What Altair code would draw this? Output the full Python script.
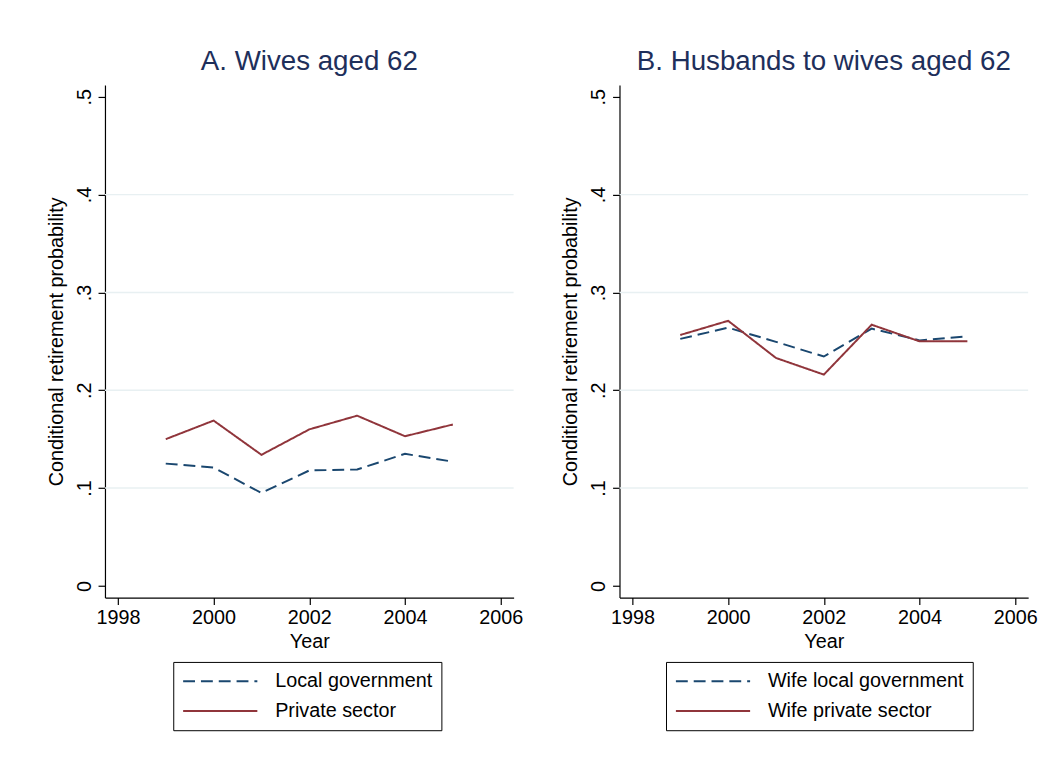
import altair as alt
import pandas as pd

years = [1999, 2000, 2001, 2002, 2003, 2004, 2005]
a_local = [0.125, 0.121, 0.095, 0.118, 0.119, 0.135, 0.127]
a_private = [0.150, 0.169, 0.134, 0.160, 0.174, 0.153, 0.165]
b_local = [0.2525, 0.264, 0.2495, 0.2345, 0.263, 0.251, 0.255]
b_private = [0.2565, 0.271, 0.233, 0.216, 0.267, 0.250, 0.250]

x_ticks = [1998, 2000, 2002, 2004, 2006]
y_ticks = [0, 0.1, 0.2, 0.3, 0.4, 0.5]
grid_values = [0.1, 0.2, 0.3, 0.4]

FONT = "Liberation Sans"
NAVY = "#1a476f"
MAROON = "#90353b"
TITLE_COLOR = "#1e2f5b"
FS = 20


def panel(title, local, private, lab_local, lab_private, legend_x):
    df = pd.DataFrame({
        "year": years * 2,
        "value": local + private,
        "series": [lab_local] * len(years) + [lab_private] * len(years),
    })
    grid_df = pd.DataFrame({"g": grid_values})
    yscale = alt.Scale(domain=[-0.012, 0.512], nice=False, zero=False)
    xscale = alt.Scale(domain=[1997.73, 2006.27], nice=False, zero=False)
    yaxis = alt.Axis(values=y_ticks, title="Conditional retirement probability",
                     labelExpr="datum.value == 0 ? '0' : substring(format(datum.value, '.1f'), 1)",
                     labelAngle=270, labelAlign="center", labelBaseline="bottom",
                     labelFontSize=FS, titleFontSize=FS, titleFontWeight="normal",
                     tickSize=7, labelPadding=4, titlePadding=8, grid=False)
    legend = alt.Legend(
        title=None, orient="none", legendX=legend_x, legendY=583,
        strokeColor="black", padding=9,
        symbolType="stroke", symbolSize=5625, symbolStrokeWidth=2,
        labelFontSize=FS, labelFont=FONT, labelColor="black", labelLimit=400,
        rowPadding=9, labelOffset=17, direction="vertical", clipHeight=21,
    )
    grid = alt.Chart(grid_df).mark_rule(color="#e8f0f2", strokeWidth=1.5).encode(
        y=alt.Y("g:Q", scale=yscale, axis=yaxis)
    )
    lines = alt.Chart(df).mark_line(strokeWidth=2).encode(
        x=alt.X("year:Q", scale=xscale,
                axis=alt.Axis(values=x_ticks, format="d", title="Year",
                              labelFontSize=FS, titleFontSize=FS, titleFontWeight="normal",
                              tickSize=7, labelPadding=3, titlePadding=4,
                              grid=False, labelFlush=False)),
        y=alt.Y("value:Q", scale=yscale, axis=yaxis),
        color=alt.Color("series:N", scale=alt.Scale(domain=[lab_local, lab_private], range=[NAVY, MAROON]),
                        legend=legend),
        strokeDash=alt.StrokeDash("series:N", scale=alt.Scale(domain=[lab_local, lab_private],
                                                              range=[[12, 6], [1, 0]]),
                                  legend=legend),
    )
    return alt.layer(grid, lines).properties(
        width=413, height=518,
        title=alt.TitleParams(title, fontSize=28, font=FONT, color=TITLE_COLOR,
                              fontWeight="normal", anchor="middle", offset=9),
    )


a = panel("A. Wives aged 62", a_local, a_private, "Local government", "Private sector", 69)
b = panel("B. Husbands to wives aged 62", b_local, b_private,
          "Wife local government", "Wife private sector", 47)

chart = alt.hconcat(a, b, spacing=38).resolve_scale(
    color="independent", strokeDash="independent"
).properties(
    padding={"left": 39, "top": 37, "right": 5, "bottom": 5}
).configure(font=FONT).configure_axis(
    domainColor="black", tickColor="black", labelColor="black", titleColor="black",
    labelFont=FONT, titleFont=FONT, domainWidth=1.2, tickWidth=1.2
).configure_view(stroke=None)

chart.save("out.html", embed_options={"renderer": "svg", "actions": False})
